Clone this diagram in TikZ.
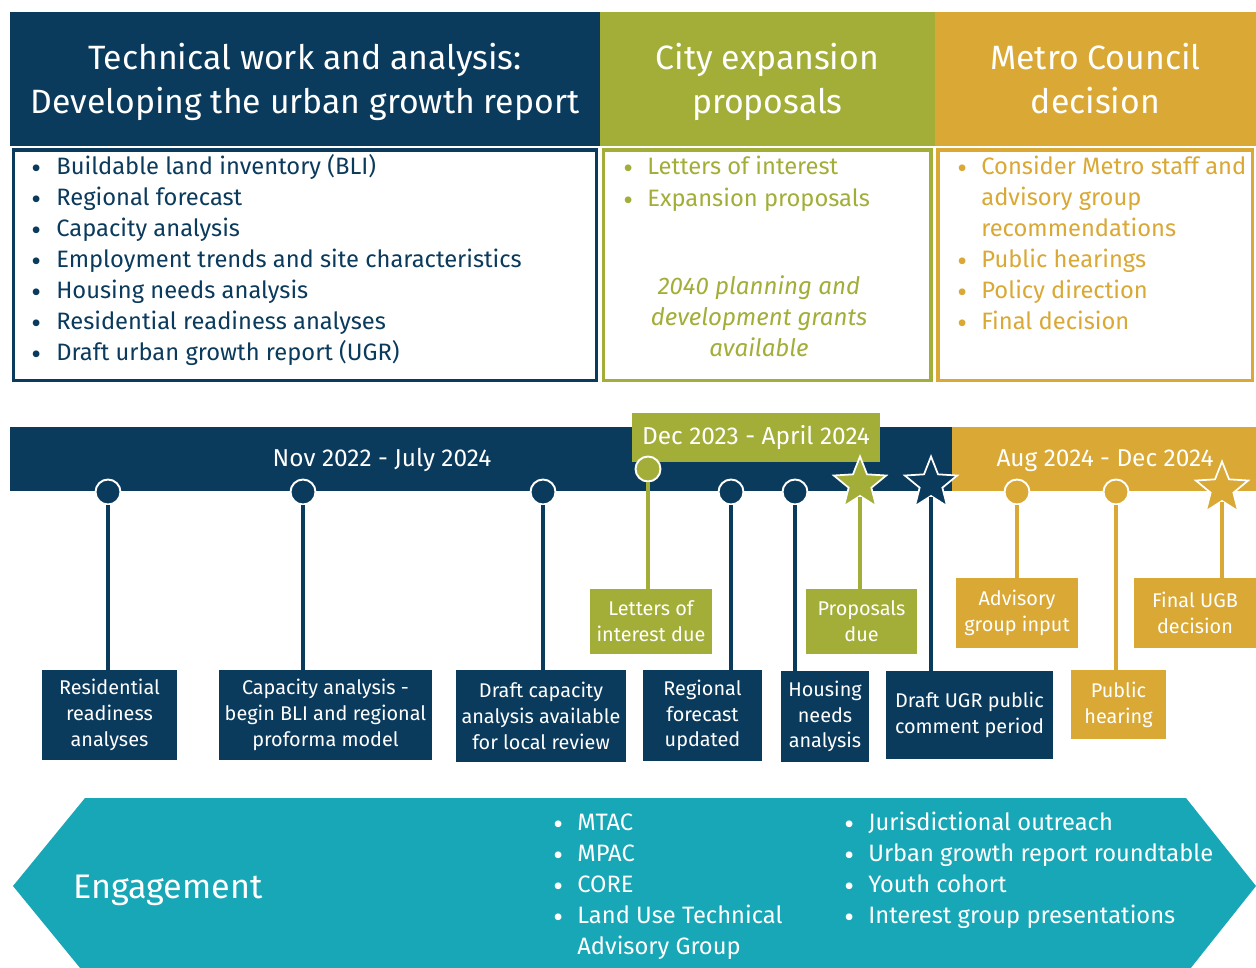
\documentclass[tikz,border=0pt]{standalone}
\usepackage{fontspec}
\setmainfont{Fira Sans}
\usetikzlibrary{positioning, shapes.geometric}

\definecolor{navy}{HTML}{0A3A5C}
\definecolor{leaf}{HTML}{A3AE38}
\definecolor{gold}{HTML}{D9A835}
\definecolor{teal}{HTML}{18A7B6}

\newcommand{\hdrfont}{\fontsize{19.2}{25}\selectfont}
\newcommand{\lstfont}{\fontsize{13.5}{17.6}\selectfont}
\newcommand{\bulfont}{\fontsize{17}{17}\selectfont}
\newcommand{\barfont}{\fontsize{13.9}{16}\selectfont}
\newcommand{\boxfont}{\fontsize{11.3}{14.7}\selectfont}
\newcommand{\engfont}{\fontsize{19.4}{23}\selectfont}

\tikzset{
  hdr/.style={minimum height=2.68cm, inner sep=0, outer sep=0},
  hdrtext/.style={text=white, align=center, inner sep=0, yshift=-1.9pt, font=\hdrfont},
  listframe/.style={draw=#1, fill=white, line width=2pt, inner sep=0, minimum height=4.61cm},
  item/.style={anchor=west, inner sep=0, text height=0.75em, text depth=0.25em, font=\lstfont},
  bul/.style={item, font=\bulfont, yshift=-2.2pt},
  bar/.style={fill=#1, inner sep=0, outer sep=0, minimum height=1.28cm},
  barlabel/.style={text=white, inner sep=0, font=\barfont},
  dotmark/.style={circle, fill=#1, draw=white, line width=1.1pt, minimum size=0.5cm, inner sep=0},
  starmark/.style={star, star points=5, star point ratio=2.3, fill=#1, draw=white, line width=1pt, minimum size=1.1cm, inner sep=0},
  event/.style={fill=#1, text=white, align=center, inner sep=0, font=\boxfont},
  stemline/.style={draw=#1, line width=2.3pt},
}

\begin{document}
\begin{tikzpicture}[x=0.02cm, y=-0.02cm]
\useasboundingbox (0,0) rectangle (1256,967);
\clip (0,0) rectangle (1256,967);

% column heads
\node[hdr, fill=navy, minimum width=11.8cm] (techHead) at (305,79) {};
\node[hdr, fill=leaf, minimum width=6.7cm, right=0pt of techHead] (cityHead) {};
\node[hdr, fill=gold, minimum width=6.42cm, right=0pt of cityHead] (metroHead) {};
\node[hdrtext] (techTitle) at (techHead) {\strut Technical work and analysis:\\Developing the urban growth report\strut};
\node[hdrtext] (cityTitle) at (cityHead) {\strut City expansion\\proposals\strut};
\node[hdrtext] (metroTitle) at (metroHead) {\strut Metro Council\\decision\strut};

% framed lists under the heads
\node[listframe=navy, minimum width=11.67cm, below=1.2pt of techHead] (techList) {};
\node[listframe=leaf, minimum width=6.55cm, below=1.2pt of cityHead] (cityList) {};
\node[listframe=gold, minimum width=6.29cm, below=1.2pt of metroHead] (metroList) {};

\foreach \txt [count=\i] in {Buildable land inventory (BLI), Regional forecast, Capacity analysis,
    Employment trends and site characteristics, Housing needs analysis,
    Residential readiness analyses, Draft urban growth report (UGR)} {
  \node[bul, text=navy] (techBul\i) at (31, {170+31*(\i-1)}) {\textbullet};
  \node[item, text=navy] (techTxt\i) at (56, {170+31*(\i-1)}) {\txt};
}
\foreach \txt [count=\i] in {Letters of interest, Expansion proposals} {
  \node[bul, text=leaf] (cityBul\i) at (623, {170+32*(\i-1)}) {\textbullet};
  \node[item, text=leaf] (cityTxt\i) at (647, {170+32*(\i-1)}) {\txt};
}
\node[font=\fontsize{13.7}{17.6}\selectfont\itshape, text=leaf, align=center, inner sep=0] (grants) at (759,316)
  {2040 planning and\\development grants\\available};
\foreach \flag/\txt [count=\i] in {1/Consider Metro staff and, 0/advisory group, 0/recommendations,
    1/Public hearings, 1/Policy direction, 1/Final decision} {
  \ifnum\flag=1 \node[bul, text=gold] (metroBul\i) at (957, {170+31*(\i-1)}) {\textbullet}; \fi
  \node[item, text=gold] (metroTxt\i) at (981, {170+31*(\i-1)}) {\txt};
}

% timeline bars
\node[bar=navy, minimum width=18.84cm] (navyBar) at (481,459) {};
\node[bar=gold, minimum width=6.08cm] (goldBar) at (1104,459) {};
\node[barlabel] (navyDates) at (382,460) {Nov 2022 - July 2024};
\node[barlabel] (goldDates) at (1105,461) {Aug 2024 - Dec 2024};
\node[fill=leaf, minimum width=4.96cm, minimum height=0.98cm, inner sep=0, text=white, font=\barfont] (leafDates) at (756,437.5) {Dec 2023 - April 2024};

% milestones
\node[dotmark=navy] (m1) at (108,492) {};
\node[dotmark=navy] (m2) at (303,492) {};
\node[dotmark=navy] (m3) at (543,492) {};
\node[dotmark=leaf] (m4) at (648,469) {};
\node[dotmark=navy] (m5) at (731,492) {};
\node[dotmark=navy] (m6) at (795,492) {};
\node[starmark=leaf] (m7) at (860,484) {};
\node[starmark=navy] (m8) at (931,484) {};
\node[dotmark=gold] (m9) at (1017,492) {};
\node[dotmark=gold] (m10) at (1116,492) {};
\node[starmark=gold] (m11) at (1222,489) {};

\node[event=navy, minimum width=2.7cm, minimum height=1.8cm] (e1) at (109.5,715) {Residential\\readiness\\analyses};
\node[event=navy, minimum width=4.26cm, minimum height=1.8cm] (e2) at (325.5,715) {Capacity analysis -\\begin BLI and regional\\proforma model};
\node[event=navy, minimum width=3.4cm, minimum height=1.84cm] (e3) at (541,716) {Draft capacity\\analysis available\\for local review};
\node[event=leaf, minimum width=2.44cm, minimum height=1.3cm] (e4) at (651,621.5) {Letters of\\interest due};
\node[event=navy, minimum width=2.38cm, minimum height=1.82cm] (e5) at (702.5,715.5) {Regional\\forecast\\updated};
\node[event=navy, minimum width=1.76cm, minimum height=1.82cm] (e6) at (825,716.5) {Housing\\needs\\analysis};
\node[event=leaf, minimum width=2.22cm, minimum height=1.3cm] (e7) at (861.5,621.5) {Proposals\\due};
\node[event=navy, minimum width=3.34cm, minimum height=1.76cm] (e8) at (969.5,715) {Draft UGR public\\comment period};
\node[event=gold, minimum width=2.44cm, minimum height=1.4cm] (e9) at (1017,613) {Advisory\\group input};
\node[event=gold, minimum width=1.9cm, minimum height=1.38cm] (e10) at (1118.5,704.5) {Public\\hearing};
\node[event=gold, minimum width=2.44cm, minimum height=1.4cm] (e11) at (1195,613) {Final UGB\\decision};

% stems from the bar down to each box
\foreach \m/\e/\c in {m1/e1/navy, m2/e2/navy, m3/e3/navy, m4/e4/leaf, m5/e5/navy,
    m6/e6/navy, m7/e7/leaf, m8/e8/navy, m9/e9/gold, m10/e10/gold, m11/e11/gold}
  \draw[stemline=\c] (\m.south) -- (\m.south |- \e.north);

% engagement band
\fill[teal] (13,886) -- (85,798) -- (1186,798) -- (1256,886) -- (1186,974) -- (85,974) -- cycle;
\node[anchor=west, inner sep=0, text=white, font=\engfont] (engage) at (73,890) {Engagement};
\foreach \flag/\txt [count=\i] in {1/MTAC, 1/MPAC, 1/CORE, 1/Land Use Technical, 0/Advisory Group} {
  \ifnum\flag=1 \node[bul, text=white] (advBul\i) at (553, {826+31*(\i-1)}) {\textbullet}; \fi
  \node[item, text=white] (advTxt\i) at (577, {826+31*(\i-1)}) {\txt};
}
\foreach \txt [count=\i] in {Jurisdictional outreach, Urban growth report roundtable,
    Youth cohort, Interest group presentations} {
  \node[bul, text=white] (outBul\i) at (844, {826+31*(\i-1)}) {\textbullet};
  \node[item, text=white] (outTxt\i) at (868, {826+31*(\i-1)}) {\txt};
}
\end{tikzpicture}
\end{document}
